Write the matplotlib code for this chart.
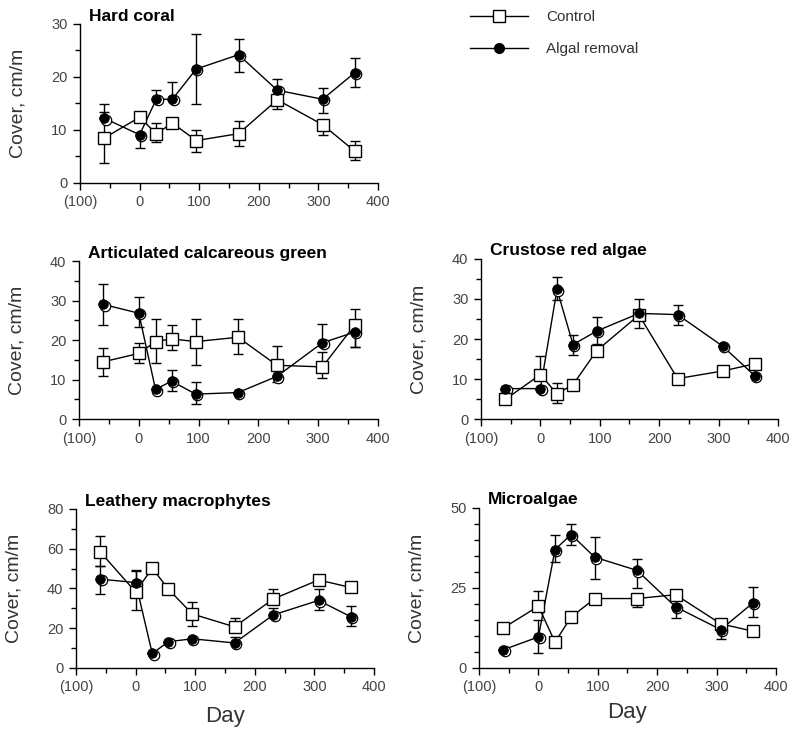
import matplotlib.pyplot as plt
import matplotlib.transforms as mtransforms
from matplotlib.lines import Line2D
from matplotlib.ticker import MultipleLocator, FixedLocator

plt.rcParams['font.family'] = ['Liberation Sans', 'DejaVu Sans']

# Sampling days (shared by all panels)
days = [-59, 0, 28, 55, 95, 166, 231, 307, 361]

# Hard coral
coral_ctrl = [8.5, 12.4, 9.3, 11.3, 8.0, 9.3, 15.7, 11.0, 6.0]
coral_ctrl_lo = [3.8, 12.4, 7.7, 11.3, 5.8, 6.9, 13.9, 9.1, 4.4]
coral_ctrl_hi = [13.3, 12.4, 11.4, 11.3, 10.0, 11.6, 15.7, 11.0, 8.0]
coral_alg = [12.2, 9.1, 15.8, 15.8, 21.5, 24.2, 17.5, 15.8, 20.8]
coral_alg_lo = [12.2, 6.6, 15.8, 15.8, 14.9, 21.0, 17.5, 13.2, 18.1]
coral_alg_hi = [14.9, 9.1, 17.6, 19.1, 28.2, 27.2, 19.6, 18.0, 23.5]

# Articulated calcareous green
green_ctrl = [14.5, 16.6, 19.6, 20.3, 19.6, 20.7, 13.6, 13.2, 23.8]
green_ctrl_lo = [10.8, 14.3, 14.2, 17.5, 13.8, 16.4, 13.6, 10.5, 18.3]
green_ctrl_hi = [17.9, 19.3, 25.4, 23.8, 25.3, 25.3, 18.6, 17.0, 27.9]
green_alg = [29.0, 26.8, 7.5, 9.6, 6.3, 6.7, 10.8, 19.3, 22.0]
green_alg_lo = [23.8, 23.3, 7.5, 7.0, 3.9, 6.7, 9.3, 19.3, 18.3]
green_alg_hi = [34.3, 31.0, 7.5, 12.3, 9.3, 6.7, 10.8, 24.1, 22.0]

# Crustose red algae
red_ctrl = [4.9, 11.1, 6.3, 8.6, 17.1, 26.0, 10.1, 12.0, 13.8]
red_ctrl_lo = [4.9, 11.1, 3.9, 8.6, 17.1, 22.8, 10.1, 12.0, 13.8]
red_ctrl_hi = [4.9, 15.7, 9.0, 8.6, 17.1, 26.0, 10.1, 12.0, 13.8]
red_alg = [7.6, 7.6, 32.4, 18.6, 22.0, 26.4, 26.1, 18.2, 10.8]
red_alg_lo = [7.6, 7.6, 29.8, 16.1, 18.8, 26.4, 23.5, 18.2, 10.8]
red_alg_hi = [7.6, 7.6, 35.6, 20.9, 25.6, 30.0, 28.6, 18.2, 10.8]

# Leathery macrophytes
leath_ctrl = [58.3, 38.3, 50.2, 39.7, 27.2, 20.7, 34.7, 44.3, 40.5]
leath_ctrl_lo = [51.3, 29.2, 50.2, 39.7, 21.0, 20.7, 34.7, 44.3, 40.5]
leath_ctrl_hi = [66.5, 49.5, 50.2, 39.7, 33.3, 25.2, 39.5, 44.3, 40.5]
leath_alg = [44.7, 43.0, 7.3, 13.2, 14.7, 12.6, 26.7, 34.0, 25.8]
leath_alg_lo = [37.0, 43.0, 7.3, 13.2, 14.7, 12.6, 26.7, 29.0, 21.0]
leath_alg_hi = [51.3, 49.0, 7.3, 13.2, 14.7, 15.8, 30.2, 39.8, 31.0]

# Microalgae
micro_ctrl = [12.5, 19.3, 8.1, 15.9, 21.7, 21.7, 22.9, 13.8, 11.5]
micro_ctrl_lo = [12.5, 19.3, 8.1, 15.9, 21.7, 19.0, 22.9, 13.8, 11.5]
micro_ctrl_hi = [12.5, 24.2, 8.1, 15.9, 21.7, 21.7, 22.9, 13.8, 11.5]
micro_alg = [5.7, 9.7, 37.0, 41.7, 34.6, 30.5, 19.1, 12.0, 20.3]
micro_alg_lo = [5.7, 4.7, 33.0, 38.5, 27.8, 25.0, 15.6, 9.1, 15.9]
micro_alg_hi = [5.7, 15.1, 41.7, 45.0, 40.9, 33.9, 19.1, 12.0, 25.3]

x_ticks = [-100, 0, 100, 200, 300, 400]
x_tick_labels = ['(100)', '0', '100', '200', '300', '400']

panels = [
    # title, axes rect, ymax, major, minor, ctrl, ctrl_lo, ctrl_hi, alg, alg_lo, alg_hi
    ('Hard coral', [0.1014, 0.7497, 0.3777, 0.2175], 30, 10, 5,
     coral_ctrl, coral_ctrl_lo, coral_ctrl_hi, coral_alg, coral_alg_lo, coral_alg_hi),
    ('Articulated calcareous green', [0.1001, 0.4268, 0.3790, 0.2161], 40, 10, 5,
     green_ctrl, green_ctrl_lo, green_ctrl_hi, green_alg, green_alg_lo, green_alg_hi),
    ('Crustose red algae', [0.6096, 0.4268, 0.3764, 0.2189], 40, 10, 5,
     red_ctrl, red_ctrl_lo, red_ctrl_hi, red_alg, red_alg_lo, red_alg_hi),
    ('Leathery macrophytes', [0.0963, 0.0862, 0.3777, 0.2175], 80, 20, 10,
     leath_ctrl, leath_ctrl_lo, leath_ctrl_hi, leath_alg, leath_alg_lo, leath_alg_hi),
    ('Microalgae', [0.6071, 0.0862, 0.3764, 0.2189], 50, 25, 5,
     micro_ctrl, micro_ctrl_lo, micro_ctrl_hi, micro_alg, micro_alg_lo, micro_alg_hi),
]

fig = plt.figure(figsize=(7.89, 7.31), dpi=100)
tick_col = '#444444'

for i, (title, rect, ymax, major, minor, c, c_lo, c_hi, a, a_lo, a_hi) in enumerate(panels):
    ax = fig.add_axes(rect)

    # error bars (one sided where only one end is visible)
    for m, lo, hi in [(c, c_lo, c_hi), (a, a_lo, a_hi)]:
        yerr = [[v - l for v, l in zip(m, lo)], [h - v for v, h in zip(m, hi)]]
        ax.errorbar(days, m, yerr=yerr, fmt='none', ecolor='black',
                    elinewidth=1.0, capsize=3.5, capthick=1.0, zorder=1)

    ax.plot(days, c, color='black', lw=1.0, zorder=2)
    ax.plot(days, a, color='black', lw=1.0, zorder=2)
    ax.plot(days, c, ls='none', marker='s', ms=8, mfc='white', mec='black',
            mew=1.0, zorder=4)
    shadow = mtransforms.offset_copy(ax.transData, fig=fig, x=0.9, y=-0.9, units='points')
    ax.plot(days, a, ls='none', marker='o', ms=7.5, mfc='white', mec='black',
            mew=0.9, transform=shadow, zorder=3)
    ax.plot(days, a, ls='none', marker='o', ms=7, mfc='black', mec='black',
            mew=0.5, zorder=4)

    ax.set_xlim(-100, 400)
    ax.set_ylim(0, ymax)
    ax.xaxis.set_major_locator(FixedLocator(x_ticks))
    ax.set_xticklabels(x_tick_labels)
    ax.xaxis.set_minor_locator(MultipleLocator(50))
    ax.yaxis.set_major_locator(MultipleLocator(major))
    ax.yaxis.set_minor_locator(MultipleLocator(minor))
    ax.spines['top'].set_visible(False)
    ax.spines['right'].set_visible(False)
    for s in ['left', 'bottom']:
        ax.spines[s].set_linewidth(1.0)
    ax.tick_params(which='major', direction='out', length=5, width=1.0,
                   labelsize=10.5, labelcolor=tick_col, pad=4)
    ax.tick_params(which='minor', direction='out', length=3.5, width=1.0)

    ax.set_ylabel('Cover, cm/m', fontsize=14, color='#333333')
    ax.yaxis.set_label_coords(-0.18, 0.5)
    ax.text(0.03, 1.05, title, transform=ax.transAxes, fontsize=12.5,
            fontweight='bold', ha='left', va='center')
    if i >= 3:
        ax.set_xlabel('Day', fontsize=16, color='#333333')
        ax.xaxis.set_label_coords(0.5, -0.24 if i == 3 else -0.21)

handles = [
    Line2D([], [], color='black', lw=1.0, marker='s', ms=8, mfc='white', mec='black'),
    Line2D([], [], color='black', lw=1.0, marker='o', ms=7, mfc='black', mec='black'),
]
fig.legend(handles, ['Control', 'Algal removal'], loc='upper left',
           bbox_to_anchor=(470 / 789, 1 - 10 / 731), frameon=False, fontsize=11,
           handlelength=3.8, handletextpad=1.2, labelspacing=1.2,
           borderpad=0, borderaxespad=0, labelcolor='#333333')

fig.savefig('out.png', dpi=100)
